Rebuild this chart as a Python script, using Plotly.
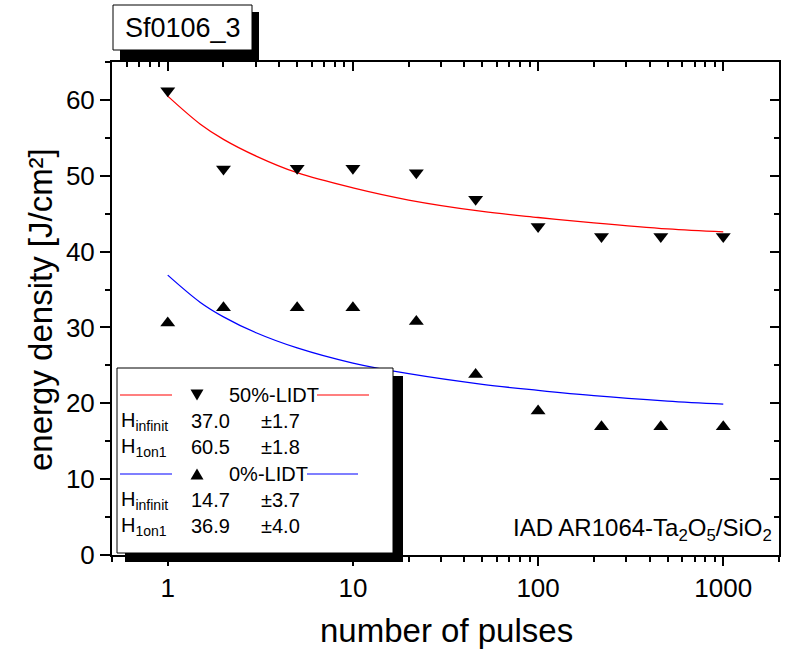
import plotly.graph_objects as go
import math

# ---- data ----
pulses = [1, 2, 5, 10, 22, 46, 100, 220, 460, 1000]
lidt50 = [61.2, 50.9, 51.0, 51.0, 50.4, 46.9, 43.3, 42.0, 42.0, 42.0]
lidt0 = [30.6, 32.6, 32.6, 32.6, 30.8, 23.8, 19.0, 16.9, 16.9, 16.9]

fit_x = [1, 1.5, 2, 3, 5, 10, 20, 50, 100, 200, 500, 1000]
fit50 = [60.5, 56.8, 54.8, 52.6, 50.4, 48.4, 46.8, 45.3, 44.5, 43.8, 43.0, 42.6]
fit0 = [36.9, 33.3, 31.4, 29.3, 27.3, 25.3, 23.9, 22.5, 21.7, 21.0, 20.3, 19.9]

x_tickvals = [1, 10, 100, 1000]
x_ticktext = ["1", "10", "100", "1000"]

legend_rows = [
    ("H<sub>infinit</sub>", "37.0", "±1.7"),
    ("H<sub>1on1</sub>", "60.5", "±1.8"),
    ("H<sub>infinit</sub>", "14.7", "±3.7"),
    ("H<sub>1on1</sub>", "36.9", "±4.0"),
]

FONT = "Liberation Sans, Arial, sans-serif"
W, H = 785, 654
L, R, T, B = 112, 779, 62, 555

def px(xp):
    return (xp - L) / (R - L)

def py(yp):
    return (B - yp) / (B - T)

fig = go.Figure()

fig.add_trace(go.Scatter(x=fit_x, y=fit50, mode="lines", line=dict(color="red", width=1.3, shape="spline"),
                         showlegend=False, hoverinfo="skip"))
fig.add_trace(go.Scatter(x=fit_x, y=fit0, mode="lines", line=dict(color="blue", width=1.3, shape="spline"),
                         showlegend=False, hoverinfo="skip"))
fig.add_trace(go.Scatter(x=pulses, y=lidt50, mode="markers",
                         marker=dict(symbol="triangle-down", size=13, color="black"), showlegend=False))
fig.add_trace(go.Scatter(x=pulses, y=lidt0, mode="markers",
                         marker=dict(symbol="triangle-up", size=13, color="black"), showlegend=False))
fig.add_trace(go.Scatter(x=[None], y=[None], xaxis="x2", yaxis="y2", showlegend=False, hoverinfo="skip"))

xr = [math.log10(0.5), math.log10(2000)]
yr = [0, 65]

shapes = []
annotations = []

# legend box with shadow
shapes.append(dict(type="rect", xref="paper", yref="paper", x0=px(125), x1=px(403), y0=py(562), y1=py(376),
                   fillcolor="black", line=dict(width=0), layer="above"))
shapes.append(dict(type="rect", xref="paper", yref="paper", x0=px(117), x1=px(393), y0=py(553), y1=py(368),
                   fillcolor="white", line=dict(color="black", width=1), layer="above"))

# title box with shadow
shapes.append(dict(type="rect", xref="paper", yref="paper", x0=px(120), x1=px(259), y0=py(62), y1=py(12),
                   fillcolor="black", line=dict(width=0), layer="above"))
shapes.append(dict(type="rect", xref="paper", yref="paper", x0=px(113), x1=px(252), y0=py(50), y1=py(5),
                   fillcolor="white", line=dict(color="black", width=1), layer="above"))
annotations.append(dict(text="Sf0106_3", xref="paper", yref="paper", x=px(182.5), y=py(28), showarrow=False,
                        xanchor="center", yanchor="middle", font=dict(family=FONT, size=27, color="black")))

# legend lines
for (y, color, xa, xb) in [(395, "red", 317, 369), (474, "blue", 307, 358)]:
    shapes.append(dict(type="line", xref="paper", yref="paper", x0=px(120), x1=px(172), y0=py(y), y1=py(y),
                       line=dict(color=color, width=1.2), layer="above"))
    shapes.append(dict(type="line", xref="paper", yref="paper", x0=px(xa), x1=px(xb), y0=py(y), y1=py(y),
                       line=dict(color=color, width=1.2), layer="above"))

# legend markers (triangles)
cx = 197
def tri(cx, cy, down):
    w, h = 6.5, 5.5
    if down:
        pts = [(cx - w, cy - h), (cx + w, cy - h), (cx, cy + h)]
    else:
        pts = [(cx - w, cy + h), (cx + w, cy + h), (cx, cy - h)]
    return "M " + " L ".join(f"{px(a):.5f},{py(b):.5f}" for a, b in pts) + " Z"

shapes.append(dict(type="path", xref="paper", yref="paper", path=tri(cx, 395, True),
                   fillcolor="black", line=dict(width=0), layer="above"))
shapes.append(dict(type="path", xref="paper", yref="paper", path=tri(cx, 474, False),
                   fillcolor="black", line=dict(width=0), layer="above"))

lf = dict(family=FONT, size=20, color="black")
annotations.append(dict(text="50%-LIDT", xref="paper", yref="paper", x=px(227), y=py(395), showarrow=False,
                        xanchor="left", yanchor="middle", font=lf))
annotations.append(dict(text="0%-LIDT", xref="paper", yref="paper", x=px(227), y=py(474), showarrow=False,
                        xanchor="left", yanchor="middle", font=lf))
for (lab, val, err), yc in zip(legend_rows, [421, 447, 500, 526]):
    annotations.append(dict(text=lab, xref="paper", yref="paper", x=px(119), y=py(yc - 14), showarrow=False,
                            xanchor="left", yanchor="top", font=lf))
    annotations.append(dict(text=val, xref="paper", yref="paper", x=px(189), y=py(yc), showarrow=False,
                            xanchor="left", yanchor="middle", font=lf))
    annotations.append(dict(text=err, xref="paper", yref="paper", x=px(259), y=py(yc), showarrow=False,
                            xanchor="left", yanchor="middle", font=lf))

annotations.append(dict(text="IAD AR1064-Ta<sub>2</sub>O<sub>5</sub>/SiO<sub>2</sub>", xref="paper", yref="paper",
                        x=px(774), y=py(512), showarrow=False, xanchor="right", yanchor="top",
                        font=dict(family=FONT, size=24, color="black")))

# axis titles
annotations.append(dict(text="number of pulses", xref="paper", yref="paper", x=px(446), y=py(630), showarrow=False,
                        xanchor="center", yanchor="middle", font=dict(family=FONT, size=33, color="black")))
annotations.append(dict(text="energy density [J/cm²]", xref="paper", yref="paper", x=px(40), y=py(310),
                        showarrow=False, textangle=-90, xanchor="center", yanchor="middle",
                        font=dict(family=FONT, size=33, color="black")))

axis_common = dict(showline=True, linecolor="black", linewidth=2, showgrid=False, zeroline=False,
                   tickcolor="black", tickwidth=2, fixedrange=True)

fig.update_layout(
    width=W, height=H,
    margin=dict(l=L, r=W - R, t=T, b=H - B, pad=0),
    paper_bgcolor="white", plot_bgcolor="white",
    font=dict(family=FONT, color="black"),
    showlegend=False,
    xaxis=dict(type="log", range=xr, tickmode="array", tickvals=x_tickvals, ticktext=x_ticktext,
               ticks="outside", ticklen=9, tickfont=dict(size=26, family=FONT),
               minor=dict(ticks="outside", ticklen=5, tickwidth=1.5, tickcolor="black", dtick="D1", showgrid=False),
               anchor="y", **axis_common),
    yaxis=dict(range=yr, dtick=10, tick0=0, ticks="outside", ticklen=10, tickfont=dict(size=26, family=FONT),
               minor=dict(ticks="outside", ticklen=5, tickwidth=1.5, tickcolor="black", dtick=5, showgrid=False),
               anchor="x", **axis_common),
    xaxis2=dict(type="log", range=xr, overlaying="x", side="top", anchor="y2", tickmode="array",
                tickvals=x_tickvals, showticklabels=False, ticks="inside", ticklen=9,
                minor=dict(ticks="inside", ticklen=5, tickwidth=1.5, tickcolor="black", dtick="D1", showgrid=False),
                **axis_common),
    yaxis2=dict(range=yr, overlaying="y", side="right", anchor="x2", dtick=10, tick0=0, showticklabels=False,
                ticks="inside", ticklen=9,
                minor=dict(ticks="inside", ticklen=5, tickwidth=1.5, tickcolor="black", dtick=5, showgrid=False),
                **axis_common),
    shapes=shapes,
    annotations=annotations,
)

fig.write_html("out.html")
